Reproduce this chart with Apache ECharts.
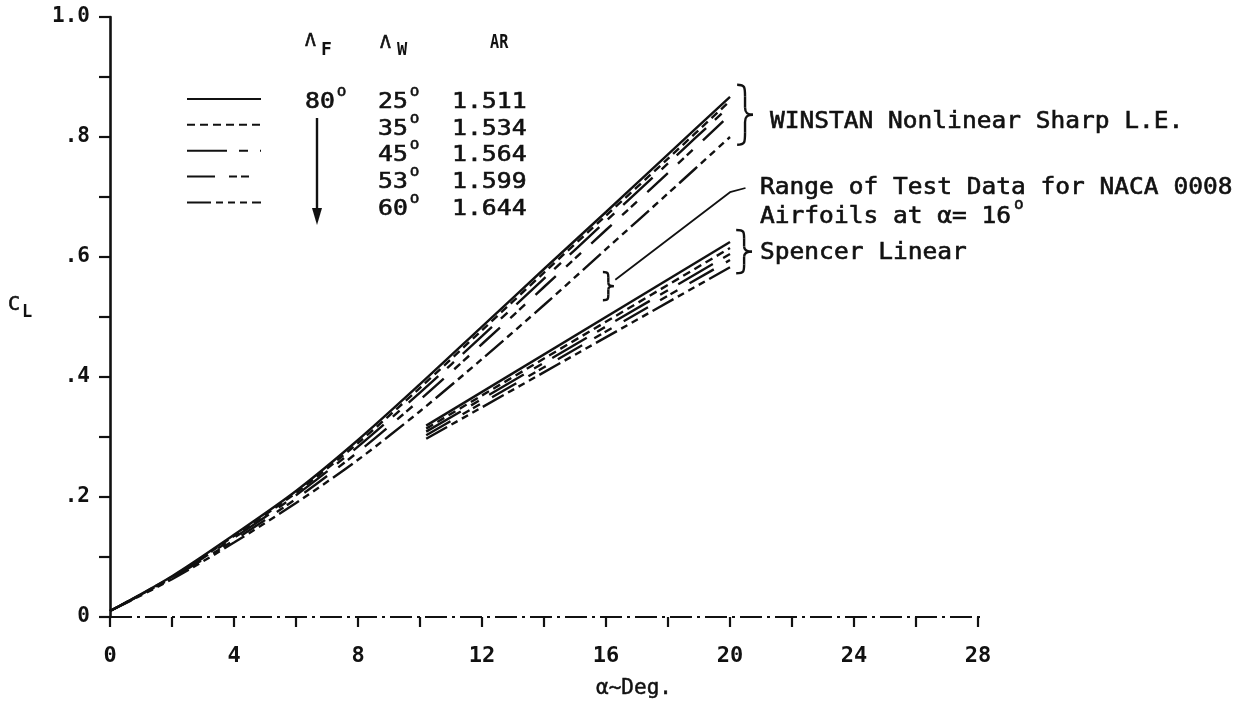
<!DOCTYPE html>
<html>
<head>
<meta charset="utf-8">
<script src="https://cdn.jsdelivr.net/npm/echarts@6/dist/echarts.min.js"></script>
<style>
html,body{margin:0;padding:0;background:#fff;}
#c{width:1246px;height:706px;}
</style>
</head>
<body>
<div id="c"></div>
<script>
// ---------------- data ----------------
const alpha = [0, 2, 4, 6, 8, 10, 12, 14, 16, 18, 20];
const winstan25 = [0.010, 0.068, 0.137, 0.210, 0.295, 0.388, 0.484, 0.580, 0.675, 0.771, 0.867];
const winstan35 = [0.010, 0.067, 0.135, 0.207, 0.290, 0.382, 0.478, 0.574, 0.669, 0.764, 0.860];
const winstan45 = [0.010, 0.066, 0.132, 0.203, 0.284, 0.374, 0.468, 0.564, 0.660, 0.756, 0.852];
const winstan53 = [0.010, 0.065, 0.128, 0.197, 0.275, 0.362, 0.455, 0.550, 0.645, 0.740, 0.837];
const winstan60 = [0.010, 0.063, 0.124, 0.190, 0.262, 0.343, 0.430, 0.520, 0.613, 0.706, 0.800];

const spencerAlpha = [10.2, 20];
const spencer25 = [0.319, 0.625];
const spencer35 = [0.314, 0.615];
const spencer45 = [0.309, 0.605];
const spencer53 = [0.303, 0.595];
const spencer60 = [0.297, 0.583];

const fuselageSweep = '80';
const wingSweeps = ['25', '35', '45', '53', '60'];
const aspectRatios = ['1.511', '1.534', '1.564', '1.599', '1.644'];

const testDataAlpha = 16.1;
const testDataRange = [0.528, 0.575];
const leaderAlpha = [16.3, 20.0, 20.5];
const leaderCL = [0.562, 0.708, 0.715];

const baselineAlpha = [0, 30];
const baselineCL = [0, 0];

const xTickLabels = ['0', '4', '8', '12', '16', '20', '24', '28'];
const yTickLabels = ['0', '.2', '.4', '.6', '.8', '1.0'];

// ---------------- styling ----------------
const INK = '#111';
const FONT = '"DejaVu Sans Mono", monospace';
const LW = 2.4;
const dashTypes = ['solid', [8, 5], [40, 12, 9, 12], [28, 14, 8, 4, 8, 14], [24, 5, 7, 5, 7, 5, 7, 5]];
const winstan = [winstan25, winstan35, winstan45, winstan53, winstan60];
const spencer = [spencer25, spencer35, spencer45, spencer53, spencer60];
const seriesNames = wingSweeps.map(s => 'ΛW = ' + s + '°');

const series = [];
winstan.forEach((vals, i) => {
  series.push({
    name: seriesNames[i], type: 'line', symbol: 'none', smooth: 0.3,
    data: alpha.map((a, j) => [a, vals[j]]),
    lineStyle: { color: INK, width: LW, type: dashTypes[i] },
    itemStyle: { color: INK }, z: 10 - i
  });
});
spencer.forEach((vals, i) => {
  series.push({
    name: seriesNames[i], type: 'line', symbol: 'none',
    data: spencerAlpha.map((a, j) => [a, vals[j]]),
    lineStyle: { color: INK, width: LW, type: dashTypes[i] },
    itemStyle: { color: INK }, z: 10 - i
  });
});
series.push({
  name: 'baseline', type: 'line', symbol: 'none', clip: false, silent: true,
  data: baselineAlpha.map((a, j) => [a, baselineCL[j]]),
  lineStyle: { color: INK, width: 2.2, type: [22, 5, 3, 5] }
});
series.push({
  name: 'leader', type: 'line', symbol: 'none', clip: false, silent: true,
  data: leaderAlpha.map((a, j) => [a, leaderCL[j]]),
  lineStyle: { color: INK, width: 1.8 }
});

const chart = echarts.init(document.getElementById('c'), null, { renderer: 'canvas' });
const option = {
  animation: false,
  backgroundColor: '#fff',
  grid: { left: 110, right: 268, top: 17, bottom: 89, containLabel: false },
  legend: {
    data: seriesNames, orient: 'vertical', left: 186, top: 92, padding: 0,
    itemWidth: 74, itemHeight: 14, itemGap: 13.25, selectedMode: false,
    formatter: () => '', textStyle: { fontSize: 8 },
    itemStyle: { opacity: 0, borderWidth: 0 }
  },
  xAxis: {
    type: 'value', min: 0, max: 28, interval: 2,
    axisLine: { show: false },
    axisTick: { show: true, inside: false, length: 10, lineStyle: { color: INK, width: 2.2 } },
    splitLine: { show: false },
    axisLabel: {
      margin: 28, color: INK, fontFamily: FONT, fontSize: 22, fontWeight: 'bold',
      formatter: v => (Math.round(v) % 4 === 0 ? xTickLabels[Math.round(v) / 4] : '')
    },
    name: 'α~Deg.', nameLocation: 'middle', nameGap: 61,
    nameTextStyle: { color: INK, fontFamily: FONT, fontSize: 21, padding: [0, 0, 0, 180],
                     textBorderColor: INK, textBorderWidth: 0.5 }
  },
  yAxis: {
    type: 'value', min: 0, max: 1.0, interval: 0.1,
    axisLine: { show: true, onZero: false, lineStyle: { color: INK, width: 2.6 } },
    axisTick: { show: true, inside: false, length: 11, lineStyle: { color: INK, width: 2.2 } },
    splitLine: { show: false },
    axisLabel: {
      margin: 20, color: INK, fontFamily: FONT, fontSize: 21, fontWeight: 'bold',
      formatter: v => { const k = Math.round(v * 10); return k % 2 === 0 ? yTickLabels[k / 2] : ''; }
    }
  },
  series: series
};
chart.setOption(option);

// ---------------- annotations ----------------
const ctx = document.createElement('canvas').getContext('2d');
function tw(str, size, weight) { ctx.font = (weight || 'normal') + ' ' + size + 'px "DejaVu Sans Mono"'; return ctx.measureText(str).width; }
function txt(str, x, y, size, o) {
  o = o || {};
  return {
    type: 'text', x: x, y: y, scaleX: o.sx || 1, silent: true,
    style: { text: str, fill: INK, fontFamily: 'DejaVu Sans Mono', fontSize: size,
             fontWeight: o.weight || 'normal', align: o.align || 'left', verticalAlign: 'middle',
             stroke: INK, lineWidth: o.weight === 'bold' ? 0 : 0.6 }
  };
}
const px = (a, c) => chart.convertToPixel({ gridIndex: 0 }, [a, c]);
function bz(x1, y1, c1x, c1y, c2x, c2y, x2, y2) {
  return { type: 'bezierCurve', silent: true,
    shape: { x1: x1, y1: y1, cpx1: c1x, cpy1: c1y, cpx2: c2x, cpy2: c2y, x2: x2, y2: y2 },
    style: { fill: null, stroke: INK, lineWidth: 2.4 } };
}
function ln(x1, y1, x2, y2, w) {
  return { type: 'line', silent: true, shape: { x1: x1, y1: y1, x2: x2, y2: y2 }, style: { stroke: INK, lineWidth: w || 2.4 } };
}
function brace(a0, a1, c0, c1) {
  const p0 = px(a0, c1), p1 = px(a1, c0);
  const xl = p0[0], xr = p1[0], yt = p0[1], yb = p1[1];
  const w = xr - xl, h = yb - yt, xm = xl + w * 0.5, ym = (yt + yb) / 2;
  return [
    bz(xl, yt, xm, yt, xm, yt + 0.04 * h, xm, yt + 0.2 * h),
    ln(xm, yt + 0.2 * h, xm, ym - 0.12 * h),
    bz(xm, ym - 0.12 * h, xm, ym - 0.02 * h, xm + 0.2 * w, ym, xr, ym),
    bz(xr, ym, xm + 0.2 * w, ym, xm, ym + 0.02 * h, xm, ym + 0.12 * h),
    ln(xm, ym + 0.12 * h, xm, yb - 0.2 * h),
    bz(xm, yb - 0.2 * h, xm, yb - 0.04 * h, xm, yb, xl, yb)
  ];
}

const g = [];
// legend block headers
const LS = 21, LSX = 1.18;
g.push(txt('Λ', 305, 41, 18));
g.push(txt('F', 321, 50, 18, { weight: 'bold' }));
g.push(txt('Λ', 380, 43, 18));
g.push(txt('W', 397, 51, 17, { weight: 'bold' }));
g.push(txt('AR', 490, 43, 19, { weight: 'bold', sx: 0.8 }));
// legend rows
const rowY = [103, 130, 156, 183, 210];
g.push(txt(fuselageSweep, 305, rowY[0], LS, { sx: LSX }));
g.push(txt('o', 305 + tw(fuselageSweep, LS) * LSX + 2, rowY[0] - 11, 16));
wingSweeps.forEach((s, i) => {
  g.push(txt(s, 378, rowY[i], LS, { sx: LSX }));
  g.push(txt('o', 378 + tw(s, LS) * LSX + 2, rowY[i] - 11, 16));
  g.push(txt(aspectRatios[i], 452, rowY[i], LS, { sx: LSX }));
});
// arrow
g.push(ln(317, 118, 317, 214));
g.push({ type: 'polygon', silent: true, shape: { points: [[312, 208], [322, 208], [317, 225]] }, style: { fill: INK } });
// C_L
g.push(txt('C', 8, 305, 20));
g.push(txt('L', 22, 313, 17, { weight: 'bold' }));

// braces
brace(20.23, 20.74, 0.787, 0.887).forEach(e => g.push(e));
brace(20.2, 20.71, 0.573, 0.645).forEach(e => g.push(e));
brace(testDataAlpha - 0.2, testDataAlpha + 0.15, testDataRange[0], testDataRange[1]).forEach(e => g.push(e));

// annotation texts
const AS = 23, ASX = 1.066;
let p = px(21.29, 0.825);
g.push(txt('WINSTAN Nonlinear Sharp L.E.', p[0], p[1], AS, { sx: ASX }));
p = px(20.97, 0.715);
g.push(txt('Range of Test Data for NACA 0008', p[0], p[1], AS, { sx: ASX }));
p = px(20.97, 0.667);
const l2 = 'Airfoils at α= 16';
g.push(txt(l2, p[0], p[1], AS, { sx: ASX }));
g.push(txt('o', p[0] + tw(l2, AS) * ASX + 3, p[1] - 12, 16));
p = px(20.97, 0.607);
g.push(txt('Spencer Linear', p[0], p[1], AS, { sx: ASX }));

chart.setOption({ graphic: g });
</script>
</body>
</html>
